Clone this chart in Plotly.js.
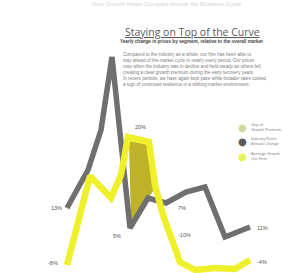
<!DOCTYPE html>
<html><head><meta charset="utf-8">
<script src="https://cdn.plot.ly/plotly-3.0.1.min.js"></script>
<style>html,body{margin:0;padding:0;background:#fff}#c{width:299px;height:273px}</style>
</head><body><div id="c"></div>
<script>
// Period positions and percent values
var industryX = [0, 1.05, 1.7, 2.25, 3.15, 4.05, 4.95, 5.95, 6.9, 7.9, 9.15];
var industryY = [12.8, 28, 44, 73.2, 4.8, 16.8, 14.8, 19.2, 21.2, 1.2, 5.2];
var firmX = [0, 1.15, 2.2, 2.7, 3.05, 4.1, 4.4, 4.8, 5.65, 6.4, 7.4, 8.4, 9.15];
var firmY = [-10, 25.6, 16.8, 26, 41.2, 39.2, 22, 10, -8.8, -12, -11.2, -11.6, -8];
var gapX = [3.1, 4.15, 4.4, 4.05, 3.2, 3.1];
var gapY = [39.6, 38, 20.8, 16.4, 7.2, 39.6];
var labelText = ["13%", "-8%", "5%", "20%", "7%", "-10%", "11%", "-4%"];
var labelX = [-0.15, -0.35, 2.5, 3.65, 5.45, 5.45, 9.4, 9.4];
var labelY = [12.8, -9.2, 1.6, 45.2, 12.8, 2, 4.8, -8.8];
var labelAnchor = ["right", "right", "center", "center", "left", "left", "left", "left"];
var legendNames = ["Gap of<br>Growth Premium", "Industry Rates<br>Annual Change", "Average Growth<br>Our Firm"];
var legendColors = ["#cfdb9c", "#5a5a5a", "#e4f25e"];

var gray = "#6f6f6f", yellow = "#f0f02a", olive = "#bdb228";

var traces = [
  {x: gapX, y: gapY, mode: "lines", fill: "toself", fillcolor: olive, line: {width: 0, color: olive}, hoverinfo: "skip"},
  {x: industryX, y: industryY, mode: "lines", line: {color: gray, width: 5.5}, hoverinfo: "skip"},
  {x: firmX, y: firmY, mode: "lines", line: {color: yellow, width: 6.5}, hoverinfo: "skip"}
];

var ann = [];
for (var i = 0; i < labelText.length; i++) {
  ann.push({x: labelX[i], y: labelY[i], xref: "x", yref: "y", text: labelText[i], showarrow: false,
    xanchor: labelAnchor[i], yanchor: "middle", font: {size: 5.5, color: "#555", family: "Liberation Sans"}});
}
// faint heading at top
ann.push({x: 0.56, y: 1, xref: "paper", yref: "paper", yanchor: "top", yshift: 1, showarrow: false,
  text: "How Growth Rates Compare Across the Business Cycle", font: {size: 6, color: "#d4d4d4", family: "Liberation Sans"}});
// title
ann.push({x: 0.41, y: 1 - 23/273, xref: "paper", yref: "paper", xanchor: "left", yanchor: "top", showarrow: false,
  text: "<span style='text-decoration:underline'>Staying on Top of the Curve</span>", font: {size: 10.5, color: "#5a5a5a", family: "Open Sans"}});
ann.push({x: 0.393, y: 1 - 36.5/273, xref: "paper", yref: "paper", xanchor: "left", yanchor: "top", showarrow: false,
  text: "<b>Yearly change in prices by segment, relative to the overall market</b>", font: {size: 4.6, color: "#444", family: "Liberation Sans"}});
ann.push({x: 0.405, y: 1 - 50/273, xref: "paper", yref: "paper", xanchor: "left", yanchor: "top", align: "left", showarrow: false,
  text: "Compared to the industry as a whole, our firm has been able to<br>stay ahead of the market cycle in nearly every period. Our prices<br>rose when the industry was in decline and held steady as others fell,<br>creating a clear growth premium during the early recovery years.<br>In recent periods, we have again kept pace while broader rates cooled,<br>a sign of continued resilience in a shifting market environment.",
  font: {size: 4.6, color: "#808080", family: "Liberation Sans"}});
// legend
var ly = [127, 141, 156];
for (var j = 0; j < 3; j++) {
  ann.push({x: 242/299, y: 1 - ly[j]/273, xref: "paper", yref: "paper", xanchor: "center", yanchor: "middle", showarrow: false,
    text: "●", font: {size: 10, color: legendColors[j], family: "DejaVu Sans"}});
  ann.push({x: 249/299, y: 1 - ly[j]/273, xref: "paper", yref: "paper", xanchor: "left", yanchor: "middle", align: "left", showarrow: false,
    text: legendNames[j], font: {size: 4, color: "#888", family: "Liberation Sans"}});
}

var layout = {
  width: 299, height: 273, margin: {l: 0, r: 0, t: 0, b: 0},
  paper_bgcolor: "#fff", plot_bgcolor: "#fff", showlegend: false,
  xaxis: {range: [-3.35, 11.6], visible: false, fixedrange: true},
  yaxis: {range: [-13.2, 96], visible: false, fixedrange: true},
  annotations: ann
};
Plotly.newPlot("c", traces, layout, {staticPlot: true});
</script></body></html>
